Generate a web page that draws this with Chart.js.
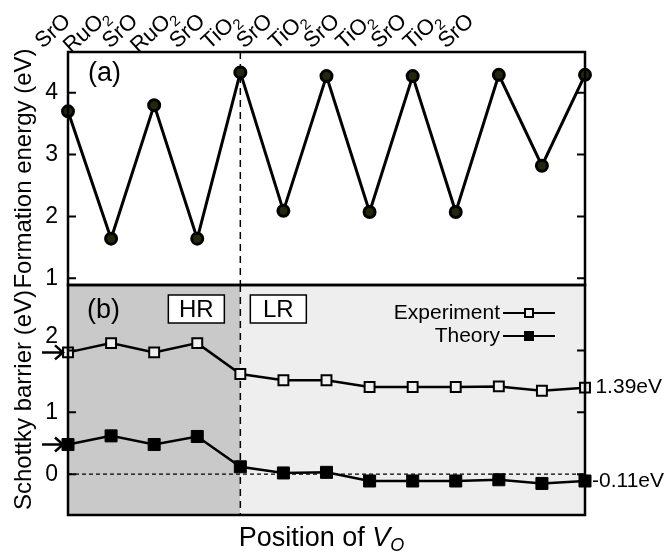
<!DOCTYPE html>
<html>
<head>
<meta charset="utf-8">
<script src="https://cdn.jsdelivr.net/npm/chart.js@4/dist/chart.umd.min.js"></script>
<style>
  html, body { margin: 0; padding: 0; background: #fff; }
  #wrap { position: relative; width: 667px; height: 556px; }
  #wrap canvas { position: absolute; left: 0; top: 0; }
</style>
</head>
<body>
<div id="wrap">
  <canvas id="barrierChart" width="667" height="556"></canvas>
  <canvas id="energyChart" width="667" height="556"></canvas>
</div>
<script>
// layer sequence along the interface (x positions of the vacancy)
const siteLabels = ['SrO', 'RuO2', 'SrO', 'RuO2', 'SrO', 'TiO2', 'SrO', 'TiO2', 'SrO', 'TiO2', 'SrO', 'TiO2', 'SrO'];

// (a) formation energy, eV
const formationEnergy = [3.70, 1.64, 3.80, 1.64, 4.33, 2.09, 4.27, 2.07, 4.27, 2.07, 4.29, 2.82, 4.29];

// (b) Schottky barrier, eV
const barrierExperiment = [1.97, 2.12, 1.97, 2.12, 1.62, 1.52, 1.52, 1.41, 1.41, 1.41, 1.42, 1.35, 1.40];
const barrierTheory = [0.48, 0.62, 0.48, 0.61, 0.12, 0.02, 0.03, -0.11, -0.11, -0.11, -0.09, -0.15, -0.11];

const energyTicks = [1, 2, 3, 4];
const barrierTicks = [0, 1, 2];
const endLabels = ['1.39eV', '-0.11eV'];
const hrEnd = 4; // HR / LR boundary sits on this layer

const FONT = '"Liberation Sans", Arial, Helvetica, sans-serif';

// draws "RuO2" style text with the trailing digits as subscript, centred on 0,0
function drawSubText(ctx, text, size) {
    const m = text.match(/^(.*?)(\d+)$/);
    const main = m ? m[1] : text;
    const sub = m ? m[2] : '';
    ctx.font = size + 'px ' + FONT;
    const wMain = ctx.measureText(main).width;
    ctx.font = Math.round(size * 0.68) + 'px ' + FONT;
    const wSub = ctx.measureText(sub).width;
    const start = -(wMain + wSub) / 2;
    const base = size * 0.36;
    ctx.textAlign = 'left';
    ctx.textBaseline = 'alphabetic';
    ctx.font = size + 'px ' + FONT;
    ctx.fillText(main, start, base);
    if (sub) {
        ctx.font = Math.round(size * 0.68) + 'px ' + FONT;
        ctx.fillText(sub, start + wMain, base + size * 0.22);
    }
}

function drawFrame(ctx, area, scale, ticks) {
    ctx.save();
    ctx.strokeStyle = '#000';
    ctx.lineWidth = 2;
    ticks.forEach(v => {
        const y = scale.getPixelForValue(v);
        if (y <= area.top + 2 || y >= area.bottom - 2) return;
        ctx.beginPath();
        ctx.moveTo(area.left, y); ctx.lineTo(area.left + 8, y);
        ctx.moveTo(area.right, y); ctx.lineTo(area.right - 8, y);
        ctx.stroke();
    });
    ctx.lineWidth = 2.5;
    ctx.strokeRect(area.left, area.top, area.right - area.left, area.bottom - area.top);
    ctx.restore();
}

function dashedVertical(chart) {
    const {ctx, chartArea: a, scales: {x}} = chart;
    const xd = x.getPixelForValue(hrEnd);
    ctx.save();
    ctx.strokeStyle = '#000';
    ctx.lineWidth = 1.5;
    ctx.setLineDash([7, 5]);
    ctx.beginPath();
    ctx.moveTo(xd, a.top);
    ctx.lineTo(xd, a.bottom);
    ctx.stroke();
    ctx.restore();
}

const energyDeco = {
    id: 'energyDeco',
    beforeDatasetsDraw(chart) {
        dashedVertical(chart);
    },
    afterDraw(chart) {
        const {ctx, chartArea: a, scales: {y}} = chart;
        drawFrame(ctx, a, y, energyTicks);
        ctx.save();
        ctx.fillStyle = '#000';
        ctx.font = '27px ' + FONT;
        ctx.textBaseline = 'middle';
        ctx.textAlign = 'left';
        ctx.fillText('(a)', a.left + 20, a.top + 22);
        // layer names along the top, rotated
        siteLabels.forEach((lab, i) => {
            ctx.save();
            ctx.translate(a.left - 16 + i * 33.6, 30);
            ctx.rotate(-42 * Math.PI / 180);
            drawSubText(ctx, lab, 22);
            ctx.restore();
        });
        ctx.restore();
    }
};

function drawArrow(ctx, x1, x2, y) {
    ctx.beginPath();
    ctx.moveTo(x1, y); ctx.lineTo(x2, y);
    ctx.moveTo(x2 - 8, y - 7); ctx.lineTo(x2, y); ctx.lineTo(x2 - 8, y + 7);
    ctx.stroke();
}

function labelBox(ctx, text, x, y, w, h) {
    ctx.fillStyle = '#fff';
    ctx.fillRect(x, y, w, h);
    ctx.strokeStyle = '#000';
    ctx.lineWidth = 1.5;
    ctx.strokeRect(x, y, w, h);
    ctx.fillStyle = '#000';
    ctx.font = '24px ' + FONT;
    ctx.textAlign = 'center';
    ctx.textBaseline = 'middle';
    ctx.fillText(text, x + w / 2, y + h / 2 + 1);
}

const barrierDeco = {
    id: 'barrierDeco',
    beforeDatasetsDraw(chart) {
        const {ctx, chartArea: a, scales: {x, y}} = chart;
        const xd = x.getPixelForValue(hrEnd);
        ctx.save();
        ctx.fillStyle = '#c9c9c9';
        ctx.fillRect(a.left, a.top, xd - a.left, a.bottom - a.top);
        ctx.fillStyle = '#eeeeee';
        ctx.fillRect(xd, a.top, a.right - xd, a.bottom - a.top);
        // zero line
        const y0 = y.getPixelForValue(0);
        ctx.strokeStyle = '#000';
        ctx.lineWidth = 1.3;
        ctx.setLineDash([4, 3]);
        ctx.beginPath();
        ctx.moveTo(a.left, y0); ctx.lineTo(a.right, y0);
        ctx.stroke();
        ctx.restore();
        dashedVertical(chart);
        ctx.save();
        labelBox(ctx, 'HR', xd - 72, a.top + 10, 56, 28);
        labelBox(ctx, 'LR', xd + 10, a.top + 10, 56, 28);
        ctx.restore();
    },
    afterDraw(chart) {
        const {ctx, chartArea: a, scales: {y}} = chart;
        drawFrame(ctx, a, y, barrierTicks);
        ctx.save();
        ctx.strokeStyle = '#000';
        ctx.fillStyle = '#000';
        ctx.lineWidth = 2.5;
        // arrows marking the first layer values
        drawArrow(ctx, a.left - 26, a.left - 5, y.getPixelForValue(barrierExperiment[0]));
        drawArrow(ctx, a.left - 26, a.left - 5, y.getPixelForValue(barrierTheory[0]));

        // values at the right end
        ctx.font = '21px ' + FONT;
        ctx.textAlign = 'right';
        ctx.textBaseline = 'middle';
        const last = barrierExperiment.length - 1;
        ctx.fillText(endLabels[0], a.right + 77, y.getPixelForValue(barrierExperiment[last]));
        ctx.fillText(endLabels[1], a.right + 79, y.getPixelForValue(barrierTheory[last]));

        ctx.font = '27px ' + FONT;
        ctx.textAlign = 'left';
        ctx.fillText('(b)', a.left + 19, a.top + 26);

        // legend
        const lx = a.right - 85;
        chart.data.datasets.forEach((ds, i) => {
            const ly = a.top + 28 + i * 23;
            ctx.fillStyle = '#000';
            ctx.font = '21px ' + FONT;
            ctx.textAlign = 'right';
            ctx.fillText(ds.label, lx, ly);
            ctx.lineWidth = 2;
            ctx.beginPath();
            ctx.moveTo(lx + 3, ly); ctx.lineTo(lx + 55, ly);
            ctx.stroke();
            if (i === 0) {
                ctx.fillStyle = '#f0f0f0';
                ctx.fillRect(lx + 25, ly - 4, 8, 8);
                ctx.strokeRect(lx + 25, ly - 4, 8, 8);
            } else {
                ctx.fillStyle = '#000';
                ctx.fillRect(lx + 24, ly - 5, 10, 10);
            }
        });

        // x axis title: Position of V_O
        ctx.fillStyle = '#000';
        ctx.textBaseline = 'alphabetic';
        ctx.textAlign = 'left';
        ctx.font = '27px ' + FONT;
        const t1 = 'Position of ';
        const w1 = ctx.measureText(t1).width;
        ctx.font = 'italic 27px ' + FONT;
        const w2 = ctx.measureText('V').width;
        ctx.font = 'italic 18px ' + FONT;
        const w3 = ctx.measureText('O').width;
        const sx = (a.left + a.right) / 2 - (w1 + w2 + w3) / 2 - 5;
        const by = 546;
        ctx.font = '27px ' + FONT;
        ctx.fillText(t1, sx, by);
        ctx.font = 'italic 27px ' + FONT;
        ctx.fillText('V', sx + w1, by);
        ctx.font = 'italic 18px ' + FONT;
        ctx.fillText('O', sx + w1 + w2, by + 5);
        ctx.restore();
    }
};

const tickFont = { family: FONT, size: 23 };
const titleFont = { family: FONT, size: 24 };

new Chart(document.getElementById('energyChart'), {
    type: 'line',
    data: {
        labels: siteLabels,
        datasets: [{
            label: 'Formation energy',
            data: formationEnergy,
            borderColor: '#000',
            borderWidth: 3,
            tension: 0,
            clip: false,
            pointStyle: 'circle',
            pointRadius: 5.5,
            pointBackgroundColor: '#26260c',
            pointBorderColor: '#000',
            pointBorderWidth: 3
        }]
    },
    options: {
        responsive: false,
        animation: false,
        events: [],
        layout: { padding: { top: 52, bottom: 271, left: 0, right: 82 } },
        plugins: { legend: { display: false }, tooltip: { enabled: false } },
        scales: {
            x: { display: false, offset: false },
            y: {
                min: 0.89,
                max: 4.66,
                afterBuildTicks: s => { s.ticks = energyTicks.map(v => ({ value: v })); },
                afterFit: s => { s.width = 68; },
                grid: { display: false, drawTicks: false },
                border: { display: false },
                ticks: { font: tickFont, color: '#000', padding: 10 },
                title: { display: true, text: 'Formation energy (eV)', font: titleFont, color: '#000', padding: { top: 10, bottom: 0 } }
            }
        }
    },
    plugins: [energyDeco]
});

new Chart(document.getElementById('barrierChart'), {
    type: 'line',
    data: {
        labels: siteLabels,
        datasets: [
            {
                label: 'Experiment',
                data: barrierExperiment,
                borderColor: '#000',
                borderWidth: 2.5,
                tension: 0,
                clip: false,
                pointStyle: 'rect',
                pointRadius: 7,
                pointBackgroundColor: '#f0f0f0',
                pointBorderColor: '#000',
                pointBorderWidth: 2
            },
            {
                label: 'Theory',
                data: barrierTheory,
                borderColor: '#000',
                borderWidth: 2.5,
                tension: 0,
                clip: false,
                pointStyle: 'rect',
                pointRadius: 8.5,
                pointBackgroundColor: '#000',
                pointBorderColor: '#000',
                pointBorderWidth: 1
            }
        ]
    },
    options: {
        responsive: false,
        animation: false,
        events: [],
        layout: { padding: { top: 285, bottom: 41, left: 0, right: 82 } },
        plugins: { legend: { display: false }, tooltip: { enabled: false } },
        scales: {
            x: { display: false, offset: false },
            y: {
                min: -0.66,
                max: 3.06,
                afterBuildTicks: s => { s.ticks = barrierTicks.map(v => ({ value: v })); },
                afterFit: s => { s.width = 68; },
                grid: { display: false, drawTicks: false },
                border: { display: false },
                ticks: {
                    font: tickFont,
                    color: '#000',
                    padding: 10,
                    // the "2" is pushed up so the arrow does not cover it
                    callback: v => (v === 2 ? ['2', ''] : String(v))
                },
                title: { display: true, text: 'Schottky barrier (eV)', font: titleFont, color: '#000', padding: { top: 10, bottom: 0 } }
            }
        }
    },
    plugins: [barrierDeco]
});
</script>
</body>
</html>
